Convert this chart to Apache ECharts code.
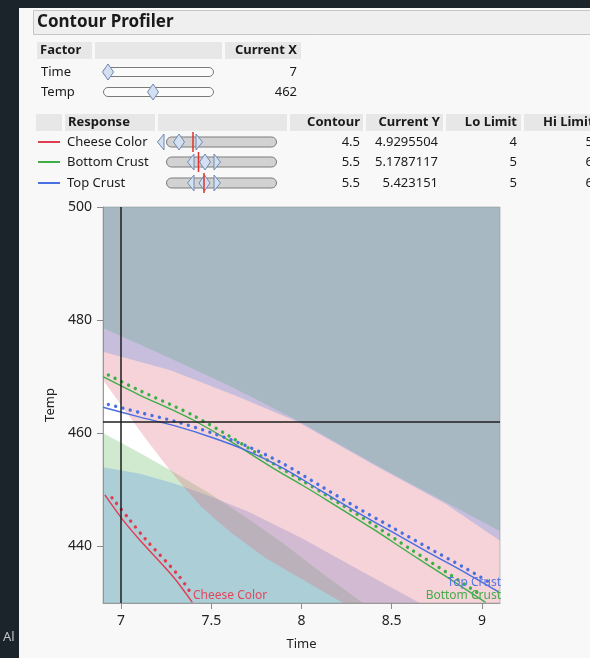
<!DOCTYPE html>
<html><head><meta charset="utf-8">
<script src="https://cdn.jsdelivr.net/npm/echarts@6/dist/echarts.min.js"></script>
<style>html,body{margin:0;padding:0;background:#f8f8f8}#c{width:590px;height:658px}</style>
</head><body><div id="c"></div>
<script>
// ---- axis / ticks ----
const timeRange = [6.9, 9.1];
const tempRange = [430, 500];
const timeTicks = [7, 7.5, 8, 8.5, 9];
const tempTicks = [440, 460, 480, 500];
const currentTime = 7;
const currentTemp = 462;

// ---- shaded (out-of-limit) region boundaries [Time, Temp] ----
const cheeseHiEdge = [[6.9,469.4],[7.0,465.0],[7.133,459.2],[7.26,453.9],[7.35,450.4],[7.437,447.3],[7.53,444.6],[7.62,442.2],[7.798,438.0],[7.991,434.4],[8.23,430.0]];
const bottomHiEdge = [[6.9,478.6],[7.27,473.3],[7.6,468.4],[7.975,462.3],[8.435,454.0],[8.8,447.8],[9.1,442.7]];
const topHiEdge    = [[6.9,474.4],[7.27,471.2],[7.64,466.6],[7.975,462.1],[8.435,453.8],[8.8,447.5],[9.1,441.0]];
const bottomLoEdge = [[6.9,460.05],[7.1,456.6],[7.3,453.0],[7.5,449.2],[7.7,445.0],[7.9,440.5],[8.1,435.6],[8.34,430]];
const topLoEdge    = [[6.9,454.0],[7.1,452.9],[7.3,451.1],[7.5,448.8],[7.7,446.2],[8.0,441.5],[8.3,436.2],[8.656,430]];

// ---- contour lines ----
const cheeseLine = [[6.91,449.1],[7.01,444.7],[7.105,441.1],[7.29,434.6],[7.395,430.1]];
const cheeseDots = [[6.95,448.6],[7.04,445.0],[7.135,441.3],[7.32,434.8],[7.39,431.6]];
const bottomLine = [[6.9,470.0],[7.1,466.8],[7.3,463.9],[7.4,462.35],[7.6,458.7],[7.84,453.9],[8.0,450.9],[8.14,448.2],[8.4,443.0],[8.6,438.8],[8.8,434.7],[9.02,430.1]];
const bottomDots = [[6.93,470.3],[7.1,467.6],[7.3,464.7],[7.4,463.15],[7.6,459.5],[7.84,454.7],[8.0,451.7],[8.14,449.0],[8.4,443.8],[8.6,439.6],[8.8,435.5],[8.99,431.5]];
const topLine    = [[6.9,464.6],[7.1,462.9],[7.3,461.3],[7.5,459.3],[7.7,456.9],[7.9,453.8],[8.1,450.0],[8.3,446.2],[8.5,442.6],[8.7,439.0],[8.9,435.5],[9.09,432.0]];
const topDots    = [[6.93,465.1],[7.1,463.7],[7.3,462.1],[7.5,460.1],[7.7,457.7],[7.9,454.6],[8.1,450.8],[8.3,447.0],[8.5,443.4],[8.7,439.8],[8.9,436.3],[9.06,433.3]];

// ---- table content ----
const factorNames = ['Time', 'Temp'];
const factorCurrent = ['7', '462'];
const responseNames = ['Cheese Color', 'Bottom Crust', 'Top Crust'];
const contourVals = ['4.5', '5.5', '5.5'];
const currentY = ['4.9295504', '5.1787117', '5.423151'];
const loLimits = ['4', '5', '5'];
const hiLimits = ['5', '6', '6'];

const RED = '#e03c52', GREEN = '#3fae49', BLUE = '#4a6fe0';
const PINK_F = 'rgba(222,108,125,0.3)', GREEN_F = 'rgba(98,185,98,0.3)', BLUE_F = 'rgba(88,141,228,0.3)';
const FONT = '"Noto Sans", "Open Sans", sans-serif';

const T0 = timeRange[0], T1 = timeRange[1], P0 = tempRange[0], P1 = tempRange[1];
const polys = {
  bottomLo: bottomLoEdge.concat([[T0, P0]]),
  topLo: topLoEdge.concat([[T0, P0]]),
  cheeseHi: cheeseHiEdge.concat([[T1, P0], [T1, P1], [T0, P1]]),
  bottomHi: bottomHiEdge.concat([[T1, P1], [T0, P1]]),
  topHi: topHiEdge.concat([[T1, P1], [T0, P1]])
};
function region(poly, fill) {
  return {
    type: 'custom', clip: true, silent: true, z: 2,
    data: [poly[0]],
    renderItem: function (params, api) {
      return { type: 'polygon', shape: { points: poly.map(p => api.coord(p)) }, style: { fill: fill } };
    }
  };
}
function solid(data, color) {
  return { type: 'line', data: data, symbol: 'none', smooth: 0.3, z: 4, silent: true,
    lineStyle: { color: color, width: 1.4 } };
}
function dots(data, color) {
  return { type: 'line', data: data, symbol: 'none', smooth: 0.3, z: 4, silent: true,
    lineStyle: { color: color, width: 3.4, type: [0.01, 7.5], cap: 'round' } };
}

// ---- graphic (table part) ----
const G = [];
function rect(x, y, w, h, fill, stroke, r) {
  G.push({ type: 'rect', shape: { x: x, y: y, width: w, height: h, r: r || 0 },
    style: { fill: fill, stroke: stroke || null, lineWidth: 1 }, z: 10 });
}
function txt(s, x, y, opt) {
  opt = opt || {};
  G.push({ type: 'text', z: opt.z || 11,
    style: { text: s, x: x, y: y, fill: opt.color || '#1a1a1a',
      font: (opt.bold ? 'bold ' : '') + (opt.size || 13) + 'px ' + FONT,
      textAlign: opt.align || 'left', textVerticalAlign: 'middle' } });
}
function diamond(cx, cy) {
  G.push({ type: 'polygon', z: 12, shape: { points: [[cx, cy - 8], [cx + 5.5, cy], [cx, cy + 8], [cx - 5.5, cy]] },
    style: { fill: '#d3e0f1', stroke: '#7189b0', lineWidth: 1 } });
}
function halfL(cx, cy) {
  G.push({ type: 'polygon', z: 12, shape: { points: [[cx + 3, cy - 8], [cx - 3.5, cy], [cx + 3, cy + 8]] },
    style: { fill: '#d3e0f1', stroke: '#7189b0', lineWidth: 1 } });
}
function halfR(cx, cy) {
  G.push({ type: 'polygon', z: 12, shape: { points: [[cx - 3, cy - 8], [cx + 3.5, cy], [cx - 3, cy + 8]] },
    style: { fill: '#d3e0f1', stroke: '#7189b0', lineWidth: 1 } });
}
function vline(x, y0, y1, color, w, z) {
  G.push({ type: 'line', z: z || 13, shape: { x1: x, y1: y0, x2: x, y2: y1 }, style: { stroke: color, lineWidth: w || 1.5 } });
}

// dark surroundings
rect(0, 0, 590, 8, '#1b232b');
rect(0, 0, 19, 658, '#1b232b');
txt('Al', 3, 637, { color: '#bfc3c7', size: 13 });
// header
rect(33.5, 10.5, 570, 24, '#efefef', '#c6c6c6');
txt('Contour Profiler', 37, 22.5, { bold: true, size: 17 });
// factor table
const HDR = '#e7e7e7';
rect(37, 42, 55, 17, HDR); rect(95, 42, 127, 17, HDR); rect(225, 42, 76, 17, HDR);
txt('Factor', 40, 50.5, { bold: true });
txt('Current X', 297, 50.5, { bold: true, align: 'right' });
const factorRowsY = [72, 92];
const factorKnobX = [108, 153];
factorNames.forEach((n, i) => {
  const y = factorRowsY[i];
  txt(n, 41, y);
  rect(103.5, y - 4.5, 110, 9, '#fbfbfb', '#7a7a7a', 4.5);
  diamond(factorKnobX[i], y);
  txt(factorCurrent[i], 297, y, { align: 'right' });
});
// response table
rect(36, 114, 26, 17, HDR); rect(65, 114, 90, 17, HDR); rect(158, 114, 129, 17, HDR);
rect(290, 114, 73, 17, HDR); rect(366, 114, 77, 17, HDR); rect(446, 114, 75, 17, HDR); rect(524, 114, 70, 17, HDR);
txt('Response', 68, 122.5, { bold: true });
txt('Contour', 360, 122.5, { bold: true, align: 'right' });
txt('Current Y', 440, 122.5, { bold: true, align: 'right' });
txt('Lo Limit', 517, 122.5, { bold: true, align: 'right' });
txt('Hi Limit', 543, 122.5, { bold: true });
const respRowsY = [142, 162, 183];
const respColors = [RED, GREEN, BLUE];
const knobs = [ // [left-half, diamond, right-half, red marker]
  [161, 179, 199, 193],
  [191, 205, 217, 198.5],
  [191, 204.5, 217, 204]
];
responseNames.forEach((n, i) => {
  const y = respRowsY[i];
  G.push({ type: 'line', z: 11, shape: { x1: 38, y1: y, x2: 60, y2: y }, style: { stroke: respColors[i], lineWidth: 2 } });
  txt(n, 67, y);
  rect(166.5, y - 5, 110, 10, '#d2d2d2', '#7a7a7a', 5);
  halfL(knobs[i][0], y); diamond(knobs[i][1], y); halfR(knobs[i][2], y);
  vline(knobs[i][3], y - 10, y + 10, '#e0302f', 1.5, 14);
  txt(contourVals[i], 360, y, { align: 'right' });
  txt(currentY[i], 438, y, { align: 'right' });
  txt(loLimits[i], 517, y, { align: 'right' });
  txt(hiLimits[i], 593, y, { align: 'right' });
});
// contour labels in plot
txt('Cheese Color', 193, 596, { color: '#e0475c', size: 12, z: 30 });
txt('Top Crust', 501, 583, { color: '#5577e0', size: 12, align: 'right', z: 30 });
txt('Bottom Crust', 501, 596, { color: '#45ab4c', size: 12, align: 'right', z: 30 });

const chart = echarts.init(document.getElementById('c'), null, { renderer: 'canvas' });
chart.setOption({
  backgroundColor: '#f8f8f8',
  animation: false,
  textStyle: { fontFamily: FONT },
  grid: { left: 103, top: 207, width: 397, height: 396, show: true, backgroundColor: '#ffffff',
    borderColor: '#c2c2c2', borderWidth: 1 },
  xAxis: {
    type: 'value', min: T0, max: T1, name: 'Time', nameLocation: 'middle', nameGap: 35,
    nameTextStyle: { color: '#222', fontSize: 13, fontFamily: FONT },
    axisLine: { show: true, lineStyle: { color: '#9a9a9a' } },
    axisTick: { show: true, length: 6, lineStyle: { color: '#8a8a8a' }, customValues: timeTicks },
    axisLabel: { color: '#222', fontSize: 14, margin: 11, fontFamily: FONT, customValues: timeTicks,
      formatter: v => String(v) },
    splitLine: { show: false }
  },
  yAxis: {
    type: 'value', min: P0, max: P1, name: 'Temp', nameLocation: 'middle', nameGap: 36,
    nameTextStyle: { color: '#222', fontSize: 13, fontFamily: FONT },
    axisLine: { show: true, lineStyle: { color: '#9a9a9a' } },
    axisTick: { show: true, length: 6, lineStyle: { color: '#8a8a8a' }, customValues: tempTicks },
    axisLabel: { color: '#222', fontSize: 14, margin: 11, fontFamily: FONT, customValues: tempTicks },
    splitLine: { show: false }
  },
  graphic: { elements: G },
  series: [
    region(polys.bottomLo, GREEN_F),
    region(polys.topLo, BLUE_F),
    region(polys.cheeseHi, PINK_F),
    region(polys.bottomHi, GREEN_F),
    region(polys.topHi, BLUE_F),
    Object.assign(solid(cheeseLine, RED), {
      markLine: { silent: true, symbol: 'none', animation: false, label: { show: false },
        lineStyle: { color: '#1e1e1e', width: 1.5, type: 'solid' },
        data: [{ xAxis: currentTime }, { yAxis: currentTemp }] }
    }),
    dots(cheeseDots, RED),
    solid(bottomLine, GREEN),
    dots(bottomDots, GREEN),
    solid(topLine, BLUE),
    dots(topDots, BLUE)
  ]
});
</script></body></html>
